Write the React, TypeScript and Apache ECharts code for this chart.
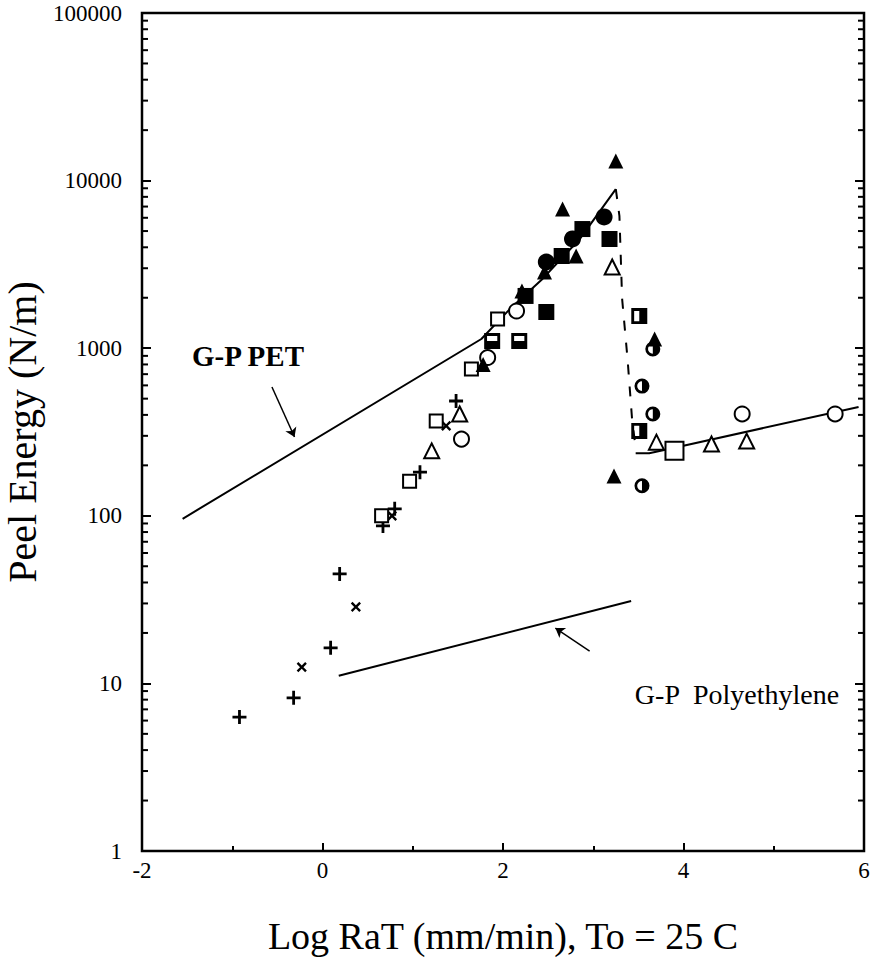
import React, { useEffect, useRef } from "react";
import * as echarts from "echarts";

const FONT = '"Liberation Serif", "Times New Roman", serif';

// ---- data (x = Log RaT, y = Peel Energy N/m) ----
const plusPts = [[-0.92, 6.3], [-0.32, 8.2], [0.09, 16.3], [0.19, 45], [0.67, 87], [0.8, 110], [1.08, 182], [1.48, 484]];
const crossPts = [[-0.23, 12.5], [0.37, 28.6], [0.77, 100], [1.37, 344]];
const openSquarePts = [[0.655, 100], [0.965, 161], [1.26, 368], [1.65, 752], [1.94, 1493]];
const bigOpenSquarePts = [[3.9, 244]];
const openTrianglePts = [[1.21, 244], [1.52, 405], [3.21, 3050], [3.7, 275], [4.31, 268], [4.7, 279]];
const openCirclePts = [[1.54, 287], [1.83, 880], [2.15, 1667], [4.65, 405], [5.68, 405]];
const filledTrianglePts = [[1.78, 800], [2.21, 2193], [2.46, 2850], [2.66, 6770], [2.81, 3550], [3.25, 13090], [3.23, 173], [3.68, 1135]];
const filledCirclePts = [[2.48, 3268], [2.77, 4484], [3.12, 6070]];
const filledSquarePts = [[2.25, 2050], [2.48, 1644], [2.65, 3550], [2.88, 5140], [3.18, 4484]];
const halfSquareHPts = [[1.88, 1104], [2.18, 1104]];
const halfSquareVPts = [[3.51, 1556], [3.51, 321]];
const halfCirclePts = [[3.54, 594], [3.66, 405], [3.54, 151], [3.66, 990]];

const petLine = [[-1.55, 96], [1.76, 1135], [2.07, 1700], [2.44, 2600], [2.85, 4480], [3.25, 8900]];
const petDrop = [[3.25, 8900], [3.29, 6150], [3.32, 1967], [3.38, 863], [3.43, 378], [3.475, 240]];
const highRateLine = [[3.47, 236], [3.62, 236], [3.9, 255], [5.94, 446]];
const polyLine = [[0.18, 11.1], [3.42, 31]];

const petArrow = [[-0.56, 587], [-0.31, 295]];
const polyArrow = [[2.96, 15.6], [2.58, 21.4]];

const yMinorTicks = [
  2, 3, 4, 5, 6, 7, 8, 9,
  20, 30, 40, 50, 60, 70, 80, 90,
  200, 300, 400, 500, 600, 700, 800, 900,
  2000, 3000, 4000, 5000, 6000, 7000, 8000, 9000,
  20000, 30000, 40000, 50000, 60000, 70000, 80000, 90000,
];

const X_MIN = -2;
const X_MAX = 6;

const PLUS = "path://M4,0H6V4H10V6H6V10H4V6H0V4H4Z";
const HALF_SQ_V = "path://M0,0H10V10H0Z M1.8,1.8V8.2H5V1.8Z";
const HALF_SQ_H = "path://M0,0H10V10H0Z M1.8,1.8V5H8.2V1.8Z";
const HALF_CIRC = "path://M5,0A5,5,0,1,1,5,10A5,5,0,1,1,5,0Z M5,1.8A3.2,3.2,0,0,0,5,8.2Z";

const openStyle = { color: "#fff", borderColor: "#000", borderWidth: 2, opacity: 1 };
const filledStyle = { color: "#000", borderWidth: 0, opacity: 1 };

function pts(name: string, data: number[][], symbol: string, size: number, style: any, rotate = 0) {
  return {
    name,
    type: "scatter",
    data,
    symbol,
    symbolSize: size,
    symbolRotate: rotate,
    itemStyle: style,
    z: 5,
    silent: true,
  };
}

function lineSeries(data: number[][], dashed = false) {
  return {
    type: "line",
    data,
    showSymbol: false,
    symbol: "none",
    lineStyle: { color: "#000", width: 2, type: dashed ? [10, 12] : "solid", opacity: 1 },
    z: 3,
    silent: true,
  };
}

function arrowSeries(coords: number[][]) {
  return {
    type: "lines",
    coordinateSystem: "cartesian2d",
    data: [{ coords }],
    symbol: ["none", "arrow"],
    symbolSize: 9,
    lineStyle: { color: "#000", width: 1.5, opacity: 1 },
    z: 3,
    silent: true,
  };
}

export default function App() {
  const ref = useRef<HTMLDivElement>(null);
  useEffect(() => {
    if (!ref.current) return;
    const chart = echarts.init(ref.current, undefined, { renderer: "svg" });
    const yBase = {
      type: "log",
      logBase: 10,
      min: 1,
      max: 100000,
      axisLine: { show: false, onZero: false },
      axisTick: { show: true, inside: true, length: 9, lineStyle: { color: "#000", width: 2 } },
      splitLine: { show: false },
    };
    chart.setOption({
      animation: false,
      backgroundColor: "#fff",
      grid: {
        left: 142,
        right: 13,
        top: 13,
        bottom: 109,
        containLabel: false,
        outerBoundsMode: "none",
        show: true,
        borderColor: "#000",
        borderWidth: 2.5,
        backgroundColor: "transparent",
      },
      xAxis: {
        type: "value",
        min: X_MIN,
        max: X_MAX,
        interval: 2,
        axisLine: { show: false, onZero: false },
        axisTick: { show: true, inside: true, length: 8, lineStyle: { color: "#000", width: 2 } },
        minorTick: { show: true, splitNumber: 2, length: 5, lineStyle: { color: "#000", width: 2 } },
        splitLine: { show: false },
        minorSplitLine: { show: false },
        axisLabel: { color: "#000", fontFamily: FONT, fontSize: 23, margin: 8, formatter: (v: number) => String(v) },
        name: "Log RaT (mm/min), To = 25 C",
        nameLocation: "middle",
        nameGap: 66,
        nameTextStyle: { color: "#000", fontFamily: FONT, fontSize: 38 },
      },
      yAxis: [
        {
          ...yBase,
          position: "left",
          axisLabel: { color: "#000", fontFamily: FONT, fontSize: 23, margin: 20, formatter: (v: number) => String(Math.round(v)) },
          name: "Peel Energy (N/m)",
          nameLocation: "middle",
          nameGap: 99,
          nameRotate: 90,
          nameTextStyle: { color: "#000", fontFamily: FONT, fontSize: 40 },
        },
        {
          ...yBase,
          position: "right",
          axisLabel: { show: false },
        },
      ],
      graphic: [
        {
          type: "text",
          x: 248,
          y: 356,
          style: { text: "G-P PET", font: `bold 29px ${FONT}`, fill: "#000", align: "center", verticalAlign: "middle" },
        },
        {
          type: "text",
          x: 737,
          y: 694,
          style: { text: "G-P  Polyethylene", font: `28px ${FONT}`, fill: "#000", align: "center", verticalAlign: "middle" },
        },
      ],
      series: [
        lineSeries(petLine),
        lineSeries(petDrop, true),
        lineSeries(highRateLine),
        lineSeries(polyLine),
        arrowSeries(petArrow),
        arrowSeries(polyArrow),
        {
          type: "custom",
          data: yMinorTicks.map((v) => [X_MIN, v]),
          encode: { x: 0, y: 1 },
          silent: true,
          z: 4,
          renderItem: (_p: any, api: any) => {
            const v = api.value(1);
            const l = api.coord([X_MIN, v]);
            const r = api.coord([X_MAX, v]);
            return {
              type: "group",
              children: [
                { type: "line", shape: { x1: l[0], y1: l[1], x2: l[0] + 6, y2: l[1] }, style: { stroke: "#000", lineWidth: 2 } },
                { type: "line", shape: { x1: r[0] - 6, y1: r[1], x2: r[0], y2: r[1] }, style: { stroke: "#000", lineWidth: 2 } },
              ],
            };
          },
        },
        pts("plus", plusPts, PLUS, 14, filledStyle),
        pts("cross", crossPts, PLUS, 12, filledStyle, 45),
        pts("openSquare", openSquarePts, "rect", 13, openStyle),
        pts("bigOpenSquare", bigOpenSquarePts, "rect", 18, openStyle),
        pts("openTriangle", openTrianglePts, "triangle", 15, openStyle),
        pts("openCircle", openCirclePts, "circle", 15, openStyle),
        pts("filledSquare", filledSquarePts, "rect", 16, filledStyle),
        pts("filledTriangle", filledTrianglePts, "triangle", 15, filledStyle),
        pts("filledCircle", filledCirclePts, "circle", 17, filledStyle),
        pts("halfSquareH", halfSquareHPts, HALF_SQ_H, 16, filledStyle),
        pts("halfSquareV", halfSquareVPts, HALF_SQ_V, 16, filledStyle),
        pts("halfCircle", halfCirclePts, HALF_CIRC, 15, filledStyle),
      ],
    });
    return () => chart.dispose();
  }, []);
  return <div ref={ref} style={{ position: "absolute", left: 0, top: 0, width: 877, height: 960 }} />;
}
